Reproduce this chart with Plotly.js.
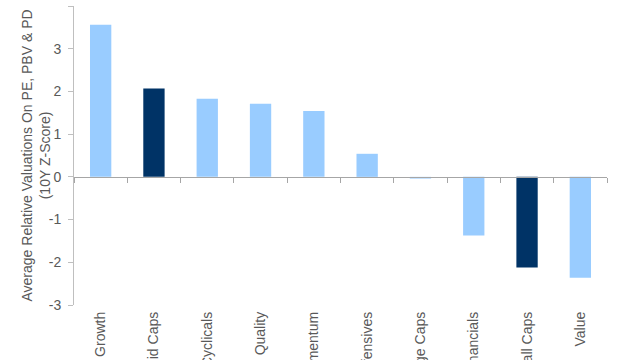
<!DOCTYPE html>
<html>
<head>
<meta charset="utf-8">
<script src="https://cdn.plot.ly/plotly-3.0.1.min.js"></script>
<style>html,body{margin:0;padding:0;background:#fff;overflow:hidden}#chart{width:640px;height:360px}</style>
</head>
<body>
<div id="chart"></div>
<script>
const categories = ["Growth", "Mid Caps", "Cyclicals", "Quality", "Momentum", "Defensives", "Large Caps", "Financials", "Small Caps", "Value"];
const values = [3.56, 2.07, 1.83, 1.71, 1.54, 0.54, -0.04, -1.37, -2.12, -2.36];
const highlighted = ["Mid Caps", "Small Caps"];
const yTickVals = [-3, -2, -1, 0, 1, 2, 3, 4];
const yTickText = ["-3", "-2", "-1", "0", "1", "2", "3", "4"];
const yTitle = "Average Relative Valuations On PE, PBV & PD<br>(10Y Z-Score)";
const lightColor = "#99CCFF";
const darkColor = "#003366";

const colors = categories.map(c => highlighted.includes(c) ? darkColor : lightColor);
const yMin = -3, yMax = 4;

const traces = [
  {
    type: "bar",
    x: categories,
    y: values,
    marker: {color: colors},
    hoverinfo: "x+y",
    xaxis: "x",
    yaxis: "y"
  },
  {
    type: "scatter",
    mode: "markers",
    x: categories,
    y: values,
    marker: {size: 1, opacity: 0},
    hoverinfo: "skip",
    showlegend: false,
    xaxis: "x2",
    yaxis: "y"
  }
];

const font = {family: "Liberation Sans, Arial, sans-serif", size: 14, color: "#595959"};

const layout = {
  width: 640, height: 360,
  margin: {l: 74, r: 33, t: 6, b: 55},
  paper_bgcolor: "#fff", plot_bgcolor: "#fff",
  showlegend: false,
  bargap: 0.6,
  font: font,
  xaxis: {
    type: "category",
    range: [-0.5, categories.length - 0.5],
    showline: false, showgrid: false, zeroline: false,
    ticks: "",
    ticklabelstandoff: 3,
    tickangle: -90,
    tickfont: font
  },
  xaxis2: {
    type: "category",
    overlaying: "x",
    anchor: "free",
    position: (0 - yMin) / (yMax - yMin),
    range: [-0.5, categories.length - 0.5],
    showline: true, linecolor: "#a6a6a6", linewidth: 1,
    showgrid: false, zeroline: false,
    ticks: "outside", tickson: "boundaries", ticklen: 5, tickcolor: "#a6a6a6",
    showticklabels: false
  },
  yaxis: {
    range: [yMin, yMax],
    tickmode: "array", tickvals: yTickVals, ticktext: yTickText,
    showline: true, linecolor: "#bfbfbf", linewidth: 1,
    showgrid: false, zeroline: false,
    ticks: "outside", ticklen: 5, tickcolor: "#bfbfbf",
    ticklabelstandoff: 4,
    tickfont: font
  },
  annotations: [{
    text: yTitle,
    xref: "paper", yref: "paper",
    x: 0, y: 0.5,
    xanchor: "center", yanchor: "middle",
    xshift: -39,
    textangle: -90,
    showarrow: false,
    font: font
  }]
};

Plotly.newPlot("chart", traces, layout, {displayModeBar: false, staticPlot: true});
</script>
</body>
</html>
